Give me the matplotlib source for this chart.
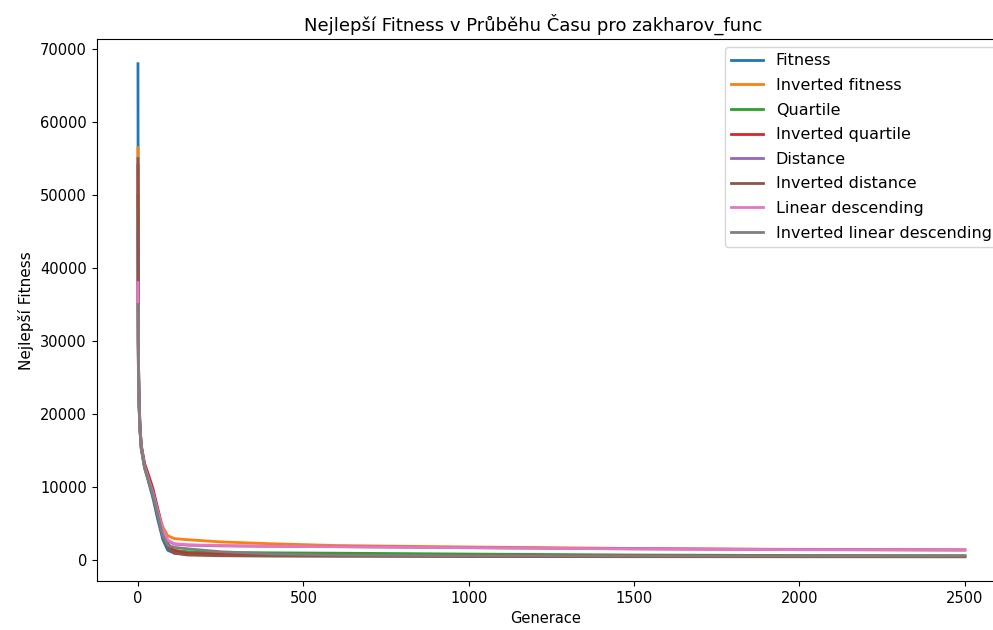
import matplotlib
matplotlib.use("Agg")
import matplotlib.pyplot as plt

# Generations at which the best fitness was recorded
generations = [0, 1, 3, 6, 10, 20, 30, 45, 60, 75, 90, 110, 150, 250, 400, 600, 1000, 1500, 2000, 2500]

fitness = [68000, 30000, 22000, 18000, 15300, 12600, 11000, 8500, 5500, 2800, 1300, 900, 750, 650, 600, 560, 520, 500, 480, 470]
inverted_fitness = [56500, 29000, 22500, 18500, 15800, 13000, 11500, 9300, 6800, 4500, 3300, 2900, 2750, 2450, 2200, 1950, 1750, 1550, 1420, 1350]
quartile = [50000, 28000, 21500, 17800, 15200, 12700, 11200, 9000, 6300, 3600, 2000, 1300, 1100, 1000, 950, 900, 780, 650, 580, 550]
inverted_quartile = [54000, 30000, 22800, 18500, 15600, 13200, 11900, 9800, 7000, 4000, 2200, 1200, 850, 750, 680, 620, 560, 520, 500, 480]
distance = [45000, 28500, 21800, 18000, 15400, 12800, 11300, 9100, 6500, 4000, 2600, 2150, 2000, 1900, 1850, 1800, 1650, 1500, 1400, 1350]
inverted_distance = [55000, 29500, 22300, 18200, 15500, 12900, 11400, 9000, 6000, 3200, 1700, 900, 650, 550, 500, 470, 440, 420, 410, 400]
linear_descending = [38000, 27500, 21500, 17900, 15300, 12800, 11300, 9200, 6600, 4200, 2700, 2200, 2050, 1950, 1850, 1780, 1650, 1480, 1380, 1320]
inverted_linear_descending = [35000, 27000, 21200, 17700, 15200, 12600, 11100, 8900, 6100, 3300, 2000, 1700, 1500, 1100, 800, 650, 560, 530, 520, 510]

series = {
    "Fitness": fitness,
    "Inverted fitness": inverted_fitness,
    "Quartile": quartile,
    "Inverted quartile": inverted_quartile,
    "Distance": distance,
    "Inverted distance": inverted_distance,
    "Linear descending": linear_descending,
    "Inverted linear descending": inverted_linear_descending,
}

fig = plt.figure(figsize=(9.93, 6.3), dpi=100)
ax = fig.add_axes([0.0973, 0.077, 0.916, 0.861])

for name, values in series.items():
    ax.plot(generations, values, label=name, linewidth=2.0)

ax.set_xticks([0, 500, 1000, 1500, 2000, 2500])
ax.set_yticks(range(0, 70001, 10000))
ax.tick_params(labelsize=10.5)
ax.set_title("Nejlepší Fitness v Průběhu Času pro zakharov_func", fontsize=13, x=0.48)
ax.set_xlabel("Generace", fontsize=10.5)
ax.xaxis.set_label_coords(0.494, -0.055)
ax.set_ylabel("Nejlepší Fitness", fontsize=11)
ax.legend(loc="upper right", fontsize=11.5, labelspacing=0.6)

fig.savefig("out.png", dpi=100)
